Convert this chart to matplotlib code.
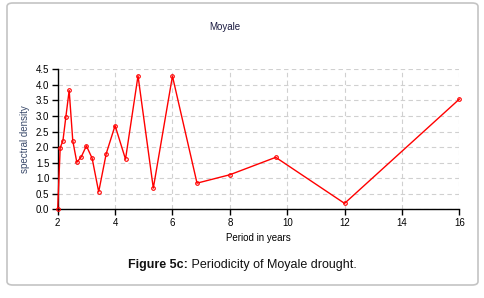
import matplotlib.pyplot as plt
from matplotlib.patches import FancyBboxPatch

plt.rcParams['font.family'] = ['Liberation Sans', 'DejaVu Sans']

# Periods (years) and spectral density
period = [2.0, 2.087, 2.182, 2.286, 2.4, 2.526, 2.667, 2.824, 3.0, 3.2,
          3.429, 3.692, 4.0, 4.364, 4.8, 5.333, 6.0, 6.857, 8.0, 9.6, 12.0, 16.0]
density = [0.02, 1.98, 2.2, 2.98, 3.82, 2.2, 1.51, 1.69, 2.04, 1.64,
           0.56, 1.79, 2.69, 1.61, 4.29, 0.68, 4.28, 0.84, 1.11, 1.67, 0.19, 3.54]

xticks = [2, 4, 6, 8, 10, 12, 14, 16]
yticks = [0.0, 0.5, 1.0, 1.5, 2.0, 2.5, 3.0, 3.5, 4.0, 4.5]

fig = plt.figure(figsize=(4.84, 2.98), dpi=100)

# rounded frame around the figure
frame = FancyBboxPatch((7 / 484, 13 / 298), 471 / 484, 282 / 298,
                       boxstyle="round,pad=0,rounding_size=0.012",
                       transform=fig.transFigure, facecolor='white',
                       edgecolor='#c4c4c4', linewidth=1.2, zorder=-10)
fig.patches.append(frame)

ax = fig.add_axes([0.1192, 0.2977, 0.8298, 0.4698])
ax.set_facecolor('none')
ax.plot(period, density, color='#ff0000', linewidth=1.0, marker='o',
        markersize=2.6, markerfacecolor='none', markeredgecolor='#ff0000',
        markeredgewidth=0.8, clip_on=False, zorder=3)

ax.set_xlim(2, 16)
ax.set_ylim(0, 4.5)
ax.set_xticks(xticks)
ax.set_yticks(yticks)
ax.set_yticklabels([f'{v:.1f}' for v in yticks])
ax.grid(True, color='#d0d0d0', linestyle=(0, (4, 3)), linewidth=0.8)
for s in ['top', 'right']:
    ax.spines[s].set_visible(False)
for s in ['left', 'bottom']:
    ax.spines[s].set_color('black')
    ax.spines[s].set_linewidth(1.0)
ax.tick_params(axis='both', labelsize=7, length=4, width=1.0, pad=2,
               colors='black')

ax.set_xlabel('Period in years', fontsize=7, labelpad=4)
ax.set_ylabel('spectral density', fontsize=7, color='#3a4a6b', labelpad=4)

fig.text(225 / 484, 1 - 27 / 298, 'Moyale', fontsize=7, ha='center',
         va='center', color='#1a1a40')

cap_x = 188 / 484
cap_y = 1 - 265 / 298
fig.text(cap_x, cap_y, 'Figure 5c:', fontsize=9, fontweight='bold',
         ha='right', va='center', color='#111111')
fig.text(cap_x, cap_y, ' Periodicity of Moyale drought.', fontsize=9,
         ha='left', va='center', color='#111111')

fig.savefig('out.png', dpi=100)
